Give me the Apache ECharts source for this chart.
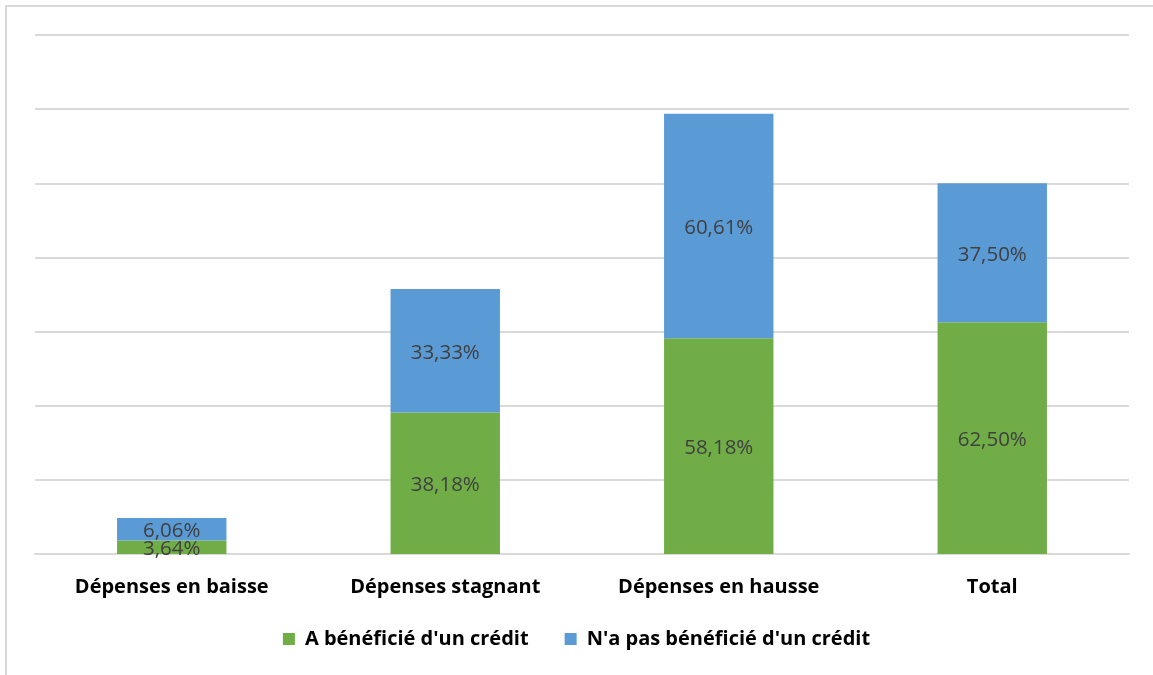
<!DOCTYPE html>
<html><head><meta charset="utf-8">
<script src="https://cdn.jsdelivr.net/npm/echarts@6/dist/echarts.min.js"></script>
<style>html,body{margin:0;padding:0;background:#fff}#c{width:1153px;height:675px}
#frame{position:absolute;left:5px;top:5px;width:1160px;height:690px;border-left:2px solid #d9d9d9;border-top:2px solid #d9d9d9;pointer-events:none}</style>
</head><body><div id="c"></div><div id="frame"></div>
<script>
const categories = ['Dépenses en baisse', 'Dépenses stagnant', 'Dépenses en hausse', 'Total'];
const seriesNames = ["A bénéficié d'un crédit", "N'a pas bénéficié d'un crédit"];
const credit = [3.64, 38.18, 58.18, 62.50];
const noCredit = [6.06, 33.33, 60.61, 37.50];
const colors = ['#70ad47', '#5b9bd5'];
const font = '"Open Sans", sans-serif';
const chart = echarts.init(document.getElementById('c'));
const fmt = p => p.value.toFixed(2).replace('.', ',') + '%';
const mk = (name, data, color) => ({
  name, type: 'bar', stack: 'a', data, barWidth: '40%',
  itemStyle: { color },
  label: { show: true, position: 'inside', offset: [0, 2], formatter: fmt, color: '#404040', fontSize: 20.5, fontFamily: font }
});
chart.setOption({
  animation: false,
  grid: { left: 35, right: 24, top: 35, bottom: 121, containLabel: false },
  legend: {
    bottom: 21, left: 'center', itemWidth: 12, itemHeight: 12, itemGap: 36,
    icon: 'rect',
    textStyle: { fontFamily: font, fontWeight: 'bold', fontSize: 20, color: '#000', padding: [0, 0, 0, 5] }
  },
  xAxis: {
    type: 'category', data: categories,
    axisLine: { lineStyle: { color: '#d9d9d9', width: 2 } },
    axisTick: { show: false },
    axisLabel: { fontFamily: font, fontWeight: 'bold', fontSize: 20, color: '#000', margin: 23 }
  },
  yAxis: {
    type: 'value', min: 0, max: 140, interval: 20,
    axisLabel: { show: false }, axisLine: { show: false }, axisTick: { show: false },
    splitLine: { lineStyle: { color: '#d9d9d9', width: 2 } }
  },
  series: [mk(seriesNames[0], credit, colors[0]), mk(seriesNames[1], noCredit, colors[1])]
});
</script></body></html>
